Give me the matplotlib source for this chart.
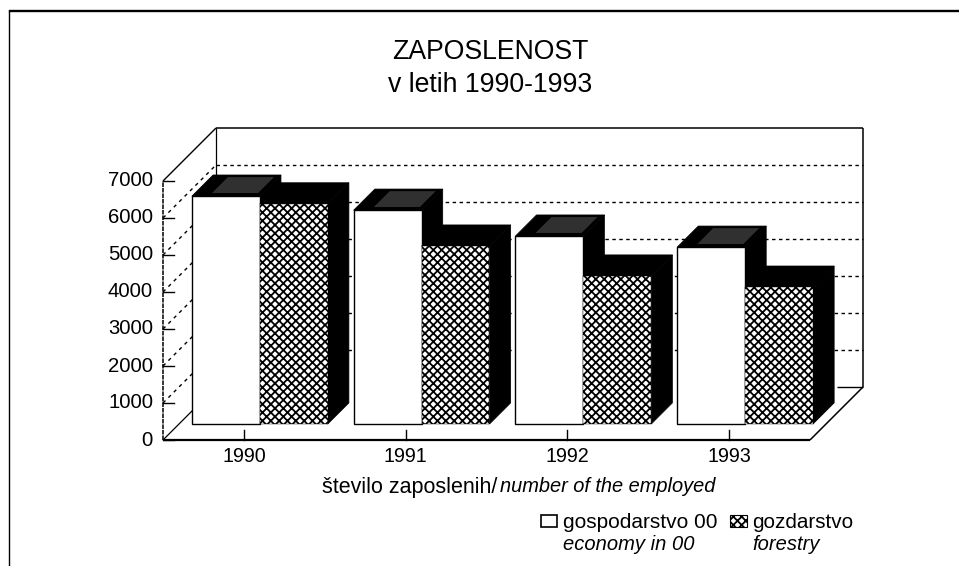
import matplotlib
matplotlib.use("Agg")
import matplotlib.pyplot as plt
from matplotlib.patches import Polygon, Rectangle

years = ["1990", "1991", "1992", "1993"]
economy = [6160, 5780, 5080, 4780]
forestry = [5950, 4810, 4000, 3700]
y_ticks = [0, 1000, 2000, 3000, 4000, 5000, 6000, 7000]

W, H = 959, 566
plt.rcParams["font.family"] = ["Liberation Sans", "DejaVu Sans"]
plt.rcParams["hatch.linewidth"] = 1.3
fig = plt.figure(figsize=(W / 100, H / 100), dpi=100, facecolor="white")
ax = fig.add_axes([0, 0, 1, 1])
ax.axis("off")

# axis geometry: front plane of the 3-D box, in pixels
X0, GROUP = 163, 161.75
Y0, UNIT = 440, 0.037
DEPTH = 53
ax.set_xlim(-X0 / GROUP, (W - X0) / GROUP)
ax.set_ylim(-(H - Y0) / UNIT, Y0 / UNIT)
DX, DY = DEPTH / GROUP, DEPTH / UNIT
YMAX, NGROUP = 7000, len(years)


def pr(x, v, d=0.0):
    return (x + d * DX, v + d * DY)


def line(a, b, **kw):
    kw.setdefault("color", "black")
    kw.setdefault("lw", 1.0)
    ax.plot([a[0], b[0]], [a[1], b[1]], solid_capstyle="butt", **kw)


# back wall
line(pr(0, 0, 1), pr(0, YMAX, 1), lw=0.9)
line(pr(0, YMAX, 1), pr(NGROUP, YMAX, 1), lw=1.1)
line(pr(NGROUP, YMAX, 1), pr(NGROUP, 0, 1), lw=1.1)
for v in y_ticks[1:-1]:
    line(pr(0, v, 1), pr(NGROUP, v, 1), lw=1.0, ls=(0, (2.5, 2.5)))

# left wall
line(pr(0, 0), pr(0, YMAX), lw=1.1, ls=(0, (3, 0.6)))
line(pr(0, YMAX), pr(0, YMAX, 1), lw=1.0)
line(pr(0, 0), pr(0, 0, 1), lw=0.9)
for v in y_ticks[1:-1]:
    line(pr(0, v), pr(0, v, 1), lw=1.0, ls=(0, (2.5, 3)))
for v in y_ticks:
    ax.plot([0, 11 / GROUP], [v, v], color="black", lw=1.0)
    ax.text(-10 / GROUP, v, str(v), ha="right", va="center", fontsize=14.6)

# floor
line(pr(0, 0), pr(NGROUP, 0), lw=1.6)
line(pr(NGROUP, 0), pr(NGROUP, 0, 1), lw=1.1)
line(pr(NGROUP - 0.16, 0, 1), pr(NGROUP, 0, 1), lw=1.0)

# bars
BAR_W = 0.42
D0, D1 = 0.30, 0.70
CROSS = "xxxx"


def box(x0, x1, v, front_kw, top_kw):
    side = [pr(x1, 0, D0), pr(x1, 0, D1), pr(x1, v, D1), pr(x1, v, D0)]
    top = [pr(x0, v, D0), pr(x1, v, D0), pr(x1, v, D1), pr(x0, v, D1)]
    ax.add_patch(Polygon(side, closed=True, fc="black", ec="black", lw=0.5, zorder=3))
    ax.add_patch(Polygon(top, closed=True, zorder=3, **top_kw))
    front = [pr(x0, 0, D0), pr(x1, 0, D0), pr(x1, v, D0), pr(x0, v, D0)]
    ax.add_patch(Polygon(front, closed=True, zorder=3, **front_kw))


for i, yr in enumerate(years):
    c = i + 0.5
    box(c - BAR_W, c, economy[i],
        dict(fc="white", ec="black", lw=1.0),
        dict(fc="black", ec="black", lw=0.5))
    box(c, c + BAR_W, forestry[i],
        dict(fc="white", ec="black", hatch=CROSS, lw=0.3),
        dict(fc="black", ec="black", lw=0.5))
    # white specks on the top face of the economy bar
    top_speck = [pr(c - BAR_W * 0.75, economy[i], D0 + 0.06), pr(c - 0.03, economy[i], D0 + 0.06),
                 pr(c - 0.03, economy[i], D1 - 0.04), pr(c - BAR_W * 0.75, economy[i], D1 - 0.04)]
    ax.add_patch(Polygon(top_speck, closed=True, fc="#303030", ec="none", zorder=3.5))
    ax.plot([c, c], [0, 10 / UNIT], color="black", lw=1.0)
    ax.text(c, -16 / UNIT, yr, ha="center", va="center", fontsize=14.2)


def ftext(x, y, s, **kw):
    fig.text(x / W, 1 - y / H, s, va="center", **kw)


# frame
fig.add_artist(plt.Line2D([10 / W, 1], [1 - 11 / H] * 2, color="black", lw=1.7))
fig.add_artist(plt.Line2D([8.5 / W] * 2, [0, 1 - 11 / H], color="black", lw=1.0))

# titles
ftext(490, 52, "ZAPOSLENOST", ha="center", fontsize=19.2)
ftext(490, 85, "v letih 1990-1993", ha="center", fontsize=19.2)
ftext(322, 487, "število zaposlenih/", ha="left", fontsize=15.5)
ftext(500, 487, "number of the employed", ha="left", fontsize=14.4, style="italic")

# legend
fig.add_artist(Rectangle((541 / W, 1 - 527 / H), 16 / W, 12 / H, transform=fig.transFigure,
                         fc="white", ec="black", lw=1.2))
fig.add_artist(Rectangle((730 / W, 1 - 527 / H), 17 / W, 12 / H, transform=fig.transFigure,
                         fc="white", ec="black", lw=0.8, hatch=CROSS))
ftext(563, 522, "gospodarstvo 00", ha="left", fontsize=15)
ftext(563, 544, "economy in 00", ha="left", fontsize=14.5, style="italic")
ftext(752, 522, "gozdarstvo", ha="left", fontsize=14.9)
ftext(752, 544, "forestry", ha="left", fontsize=14.5, style="italic")

fig.savefig("out.png", dpi=100, facecolor="white")
